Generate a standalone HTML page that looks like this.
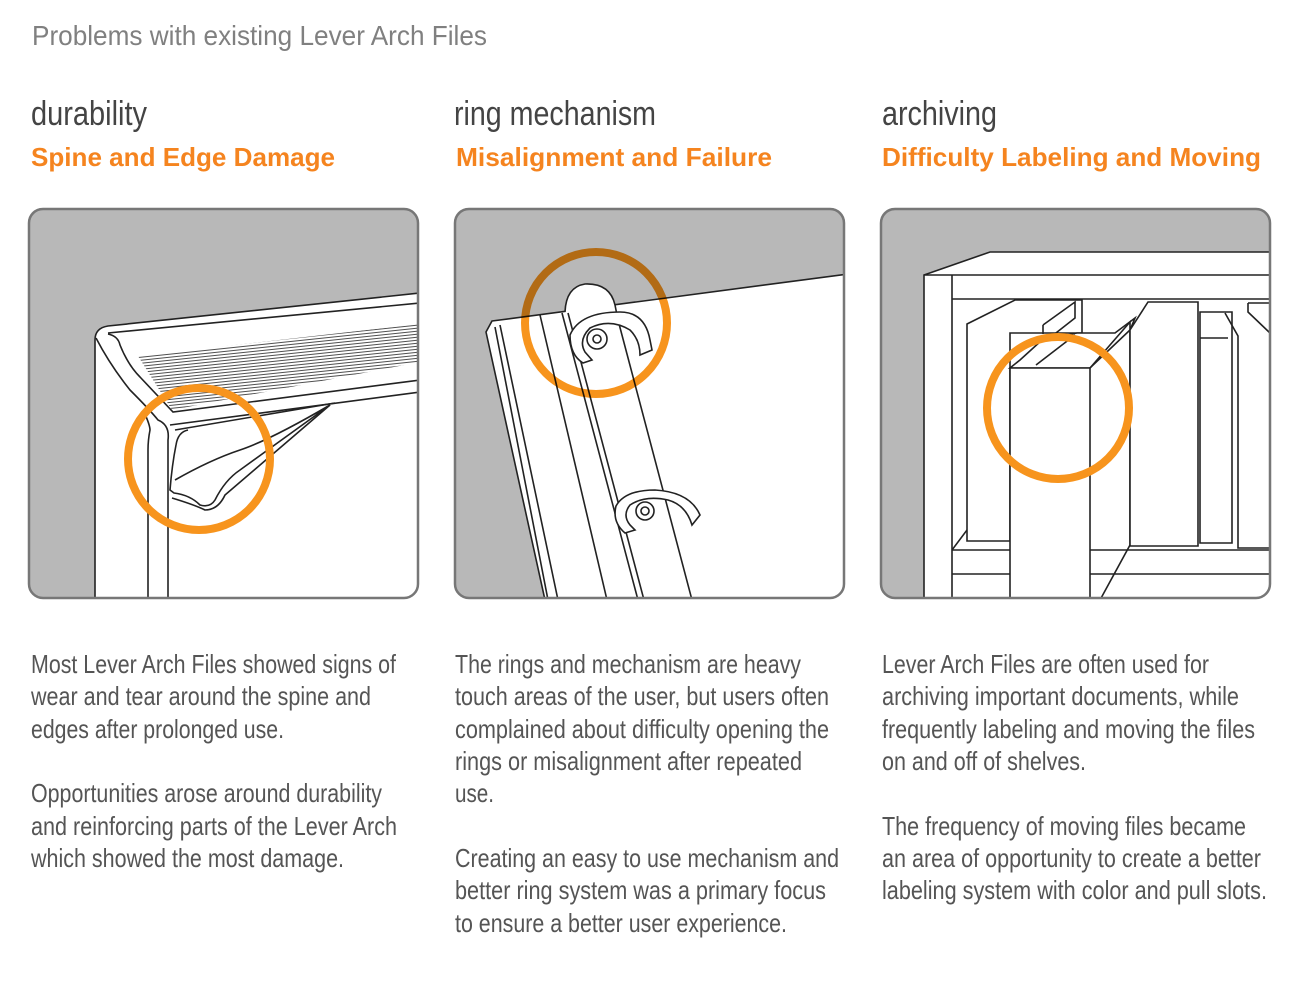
<!DOCTYPE html>
<html><head><meta charset="utf-8"><style>
html,body{margin:0;padding:0;background:#fff;}
svg{display:block;}
.t{font-family:"Liberation Sans",sans-serif;}
.b{font-size:26px;fill:#555;}
.h{font-size:34px;fill:#444;}
.o{font-size:26px;fill:#f5841f;font-weight:bold;}
</style></head><body>
<svg width="1296" height="1008" viewBox="0 0 1296 1008" xmlns="http://www.w3.org/2000/svg">
<defs>
<clipPath id="c1"><rect x="28" y="208" width="390" height="390" rx="14"/></clipPath>
<clipPath id="c2"><rect x="454" y="208" width="391" height="390" rx="14"/></clipPath>
<clipPath id="c3"><rect x="880" y="208" width="390" height="390" rx="14"/></clipPath>
<pattern id="hatch" width="6" height="3" patternUnits="userSpaceOnUse" patternTransform="rotate(-6)"><line x1="0" y1="1" x2="6" y2="1" stroke="#222" stroke-width="0.8"/></pattern>
</defs>
<g class="t">
<text x="32" y="45" font-size="28" fill="#808080" textLength="455" lengthAdjust="spacingAndGlyphs">Problems with existing Lever Arch Files</text>
<text x="31" y="125" class="h" textLength="116" lengthAdjust="spacingAndGlyphs">durability</text>
<text x="454" y="125" class="h" textLength="202" lengthAdjust="spacingAndGlyphs">ring mechanism</text>
<text x="882" y="125" class="h" textLength="115" lengthAdjust="spacingAndGlyphs">archiving</text>
<text x="31" y="166" class="o" textLength="304" lengthAdjust="spacingAndGlyphs">Spine and Edge Damage</text>
<text x="456" y="166" class="o" textLength="316" lengthAdjust="spacingAndGlyphs">Misalignment and Failure</text>
<text x="882" y="166" class="o" textLength="379" lengthAdjust="spacingAndGlyphs">Difficulty Labeling and Moving</text>

<text x="31" y="673" class="b" textLength="365" lengthAdjust="spacingAndGlyphs">Most Lever Arch Files showed signs of</text>
<text x="31" y="705" class="b" textLength="340" lengthAdjust="spacingAndGlyphs">wear and tear around the spine and</text>
<text x="31" y="738" class="b" textLength="253" lengthAdjust="spacingAndGlyphs">edges after prolonged use.</text>
<text x="31" y="802" class="b" textLength="351" lengthAdjust="spacingAndGlyphs">Opportunities arose around durability</text>
<text x="31" y="835" class="b" textLength="366" lengthAdjust="spacingAndGlyphs">and reinforcing parts of the Lever Arch</text>
<text x="31" y="867" class="b" textLength="313" lengthAdjust="spacingAndGlyphs">which showed the most damage.</text>

<text x="455" y="673" class="b" textLength="346" lengthAdjust="spacingAndGlyphs">The rings and mechanism are heavy</text>
<text x="455" y="705" class="b" textLength="374" lengthAdjust="spacingAndGlyphs">touch areas of the user, but users often</text>
<text x="455" y="738" class="b" textLength="374" lengthAdjust="spacingAndGlyphs">complained about difficulty opening the</text>
<text x="455" y="770" class="b" textLength="347" lengthAdjust="spacingAndGlyphs">rings or misalignment after repeated</text>
<text x="455" y="802" class="b" textLength="39" lengthAdjust="spacingAndGlyphs">use.</text>
<text x="455" y="867" class="b" textLength="384" lengthAdjust="spacingAndGlyphs">Creating an easy to use mechanism and</text>
<text x="455" y="899" class="b" textLength="371" lengthAdjust="spacingAndGlyphs">better ring system was a primary focus</text>
<text x="455" y="932" class="b" textLength="332" lengthAdjust="spacingAndGlyphs">to ensure a better user experience.</text>

<text x="882" y="673" class="b" textLength="327" lengthAdjust="spacingAndGlyphs">Lever Arch Files are often used for</text>
<text x="882" y="705" class="b" textLength="357" lengthAdjust="spacingAndGlyphs">archiving important documents, while</text>
<text x="882" y="738" class="b" textLength="373" lengthAdjust="spacingAndGlyphs">frequently labeling and moving the files</text>
<text x="882" y="770" class="b" textLength="204" lengthAdjust="spacingAndGlyphs">on and off of shelves.</text>
<text x="882" y="835" class="b" textLength="364" lengthAdjust="spacingAndGlyphs">The frequency of moving files became</text>
<text x="882" y="867" class="b" textLength="379" lengthAdjust="spacingAndGlyphs">an area of opportunity to create a better</text>
<text x="882" y="899" class="b" textLength="385" lengthAdjust="spacingAndGlyphs">labeling system with color and pull slots.</text>
</g>

<!-- Panel 1 -->
<g clip-path="url(#c1)" stroke="#222" stroke-width="1.6" fill="none">
<rect x="28" y="208" width="390" height="390" fill="#b8b8b8" stroke="none"/>
<path d="M95,600 L95,340 Q95,328 108,326 L420,293 L420,600 Z" fill="#fff"/>
<path d="M108,333 L420,303"/>
<path d="M108,334 Q118,336 120,345 Q128,365 140,377 L173,412 L420,380"/>
<path d="M138,356 L420,324 L420,362 L172,410 Z" fill="url(#hatch)" stroke="none"/>
<path d="M96,338 Q110,365 130,390 Q150,410 158,420 Q170,425 168,440 L168,600"/>
<path d="M144,412 Q150,425 150,430 Q148,440 148,450 L148,600"/>
<path d="M170,425 L420,392"/>
<path d="M188,430 Q178,432 176,445 Q172,465 170,490 L174,493 Q190,495 200,505 Q210,508 215,500 Q225,480 240,470 L330,405 Q270,440 240,450 Q210,460 175,480"/>
<path d="M175,430 L335,403"/>
<path d="M172,498 Q195,505 205,510 Q218,510 225,495 L330,405"/>
</g>
<rect x="29" y="209" width="389" height="389" rx="14" fill="none" stroke="#777" stroke-width="2.5"/>
<circle cx="199" cy="459" r="71" fill="none" stroke="#f7941d" stroke-width="8"/>

<!-- Panel 2 -->
<g clip-path="url(#c2)" stroke="#222" stroke-width="1.6" fill="none">
<rect x="454" y="208" width="391" height="390" fill="#b8b8b8" stroke="none"/>
<path d="M492,321 L848,274 L848,600 L545,600 L486,332 Z" fill="#fff"/>
<path d="M495,327 L548,600"/>
<path d="M500,325 L558,600"/>
<path d="M540,315 L607,600"/>
<path d="M562,313 L638,600"/>
<path d="M568,313 L644,600"/>
<path d="M618,320 L692,600"/>
<path d="M565,312 Q566,287 585,284 Q610,283 615,305 L618,320" fill="#fff"/>
<path d="M570,335 Q580,312 620,312 Q645,312 650,340 L652,350 L640,355 Q640,340 630,330 Q610,318 590,328 Q578,340 585,352 L592,360 L583,363 Q570,355 570,335 Z" fill="#fff"/>
<circle cx="597" cy="339" r="10"/><circle cx="597" cy="339" r="4"/>
<path d="M616,506 Q625,490 655,490 Q690,492 700,515 L692,525 Q686,505 668,500 Q645,495 630,505 Q622,515 630,525 L635,530 L625,533 Q612,522 616,506 Z" fill="#fff"/>
<circle cx="645" cy="511" r="9"/><circle cx="645" cy="511" r="4"/>
</g>
<rect x="455" y="209" width="389" height="389" rx="14" fill="none" stroke="#777" stroke-width="2.5"/>
<circle cx="596" cy="323" r="71" fill="none" stroke="#f7941d" stroke-width="8" style="mix-blend-mode:multiply"/>

<!-- Panel 3 -->
<g clip-path="url(#c3)" stroke="#222" stroke-width="1.6" fill="none">
<rect x="880" y="208" width="390" height="390" fill="#b8b8b8" stroke="none"/>
<path d="M924,275 L990,252 L1272,252 L1272,600 L924,600 Z" fill="#fff"/>
<path d="M924,275 L1272,275"/>
<path d="M952,275 L952,600"/>
<path d="M952,299 L1272,299"/>
<path d="M952,550 L1272,550"/>
<path d="M952,574 L1272,574"/>
<path d="M952,550 L967,530"/>
<path d="M967,324 L1015,300 L1082,300 L1082,333 L1010,333 L1010,541 L967,541 Z" fill="#fff"/>
<path d="M1043,325 L1043,334"/>
<path d="M1043,325 L1075,302 L1075,318 L1047,340"/>
<path d="M1010,368 L1020,360 L1042,340 L1077,333 L1115,333 L1135,318 L1130,330 L1090,368 Z" fill="#fff"/>
<path d="M1036,365 L1075,335"/>
<path d="M1010,368 L1090,368 L1090,600 L1010,600 Z" fill="#fff"/>
<path d="M1090,368 L1130,322 L1130,545 L1100,600"/>
<path d="M1130,330 L1148,302 L1198,302 L1198,546 L1130,546 Z" fill="#fff"/>
<path d="M1200,312 L1232,312 L1232,543 L1200,543 Z" fill="#fff"/>
<path d="M1200,338 L1228,338"/>
<path d="M1225,313 L1238,336 L1238,548 L1272,548"/>
<path d="M1248,303 L1272,303 M1248,303 L1248,312 L1270,333"/>
</g>
<rect x="881" y="209" width="389" height="389" rx="14" fill="none" stroke="#777" stroke-width="2.5"/>
<circle cx="1058" cy="408" r="71" fill="none" stroke="#f7941d" stroke-width="8"/>
</svg>
</body></html>
